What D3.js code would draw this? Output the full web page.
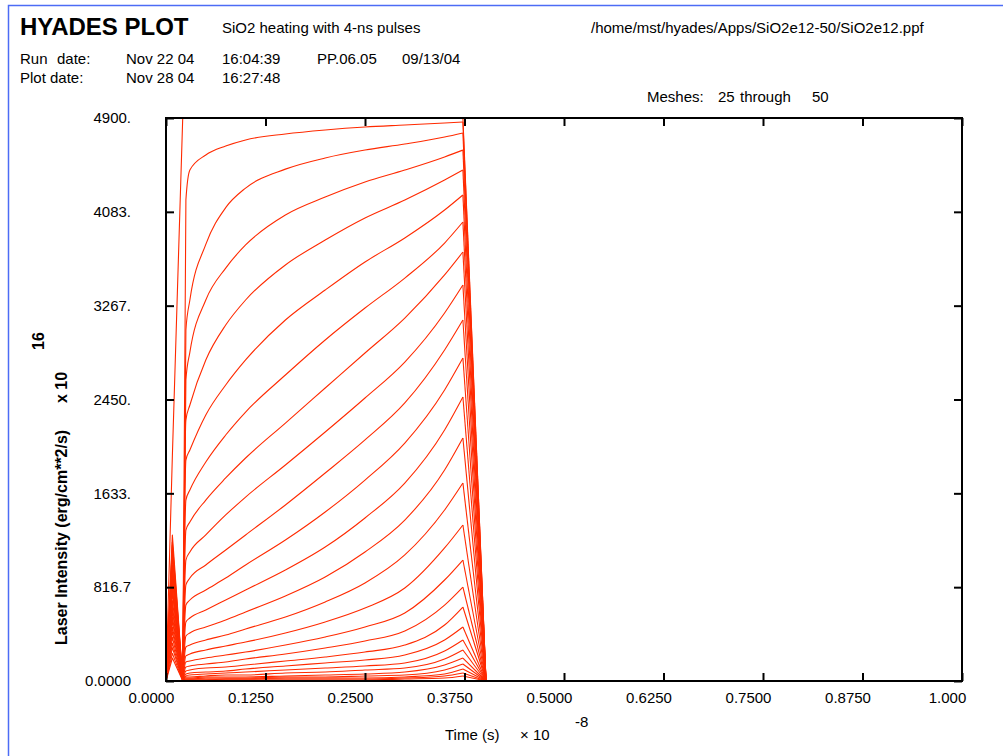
<!DOCTYPE html>
<html>
<head>
<meta charset="utf-8">
<script src="https://cdn.jsdelivr.net/npm/d3@7"></script>
<style>
  html, body { margin: 0; padding: 0; background: #fff; }
  svg { display: block; }
  text { font-family: "Liberation Sans", Arial, Helvetica, sans-serif; fill: #000; }
</style>
</head>
<body>
<svg id="chart" width="1003" height="756"></svg>
<script>
// ---- data ----
const times = [0, 0.008, 0.021, 0.025, 0.03, 0.05, 0.075, 0.1, 0.15, 0.2, 0.25, 0.3, 0.35, 0.373, 0.402];

const mesh50 = [0, 1960, 4900, 4900, 4900, 4900, 4900, 4900, 4900, 4900, 4900, 4900, 4900, 4900, 0];
const mesh49 = [0, 1270, 12, 4186, 4447, 4578, 4656, 4709, 4761, 4796, 4822, 4839, 4856, 4865, 0];
const mesh48 = [0, 1180, 10, 3055, 3316, 3800, 4120, 4290, 4455, 4552, 4621, 4674, 4735, 4770, 0];
const mesh47 = [0, 1210, 14, 2620, 2863, 3316, 3594, 3795, 4056, 4212, 4343, 4447, 4561, 4621, 0];
const mesh46 = [0, 1090, 9, 2272, 2402, 2794, 3098, 3316, 3621, 3838, 4030, 4186, 4360, 4447, 0];
const mesh45 = [0, 1120, 11, 1923, 2010, 2315, 2576, 2794, 3142, 3403, 3647, 3856, 4099, 4230, 0];
const mesh44 = [0, 1010, 8, 1575, 1662, 1906, 2141, 2341, 2663, 2968, 3246, 3507, 3812, 3995, 0];
const mesh43 = [0, 960, 12, 1314, 1384, 1575, 1767, 1941, 2245, 2550, 2855, 3159, 3534, 3734, 0];
const mesh42 = [0, 990, 10, 1053, 1123, 1271, 1445, 1601, 1880, 2167, 2463, 2776, 3203, 3447, 0];
const mesh41 = [0, 880, 9, 836, 896, 1010, 1140, 1271, 1532, 1810, 2098, 2420, 2881, 3142, 0];
const mesh40 = [0, 900, 11, 661, 705, 792, 896, 1010, 1227, 1471, 1749, 2071, 2533, 2811, 0];
const mesh39 = [0, 820, 8, 514, 548, 618, 705, 792, 966, 1166, 1419, 1723, 2185, 2472, 0];
const mesh38 = [0, 770, 10, 392, 418, 470, 531, 601, 740, 905, 1123, 1401, 1836, 2115, 0];
const mesh37 = [0, 790, 9, 296, 313, 357, 400, 453, 557, 688, 853, 1097, 1488, 1723, 0];
const mesh36 = [0, 700, 8, 218, 235, 270, 305, 339, 418, 514, 635, 809, 1158, 1358, 0];
const mesh35 = [0, 650, 7, 165, 174, 200, 226, 252, 313, 383, 470, 592, 879, 1053, 0];
const mesh34 = [0, 610, 7, 122, 131, 148, 165, 191, 235, 287, 348, 435, 661, 818, 0];
const mesh33 = [0, 560, 6, 87, 96, 113, 122, 139, 174, 209, 252, 313, 487, 644, 0];
const mesh32 = [0, 520, 6, 61, 70, 78, 87, 104, 131, 157, 183, 226, 357, 470, 0];
const mesh31 = [0, 470, 5, 44, 52, 61, 70, 78, 96, 113, 131, 157, 261, 357, 0];
const mesh30 = [0, 430, 5, 35, 35, 44, 52, 52, 70, 78, 96, 113, 191, 270, 0];
const mesh29 = [0, 380, 4, 26, 26, 35, 35, 35, 44, 52, 61, 78, 139, 200, 0];
const mesh28 = [0, 330, 4, 17, 17, 26, 26, 26, 35, 35, 44, 52, 96, 148, 0];
const mesh27 = [0, 290, 3, 17, 17, 17, 17, 17, 26, 26, 26, 35, 61, 104, 0];
const mesh26 = [0, 240, 3, 9, 9, 9, 17, 17, 17, 17, 17, 26, 44, 70, 0];
const mesh25 = [0, 200, 2, 9, 9, 9, 9, 9, 9, 9, 9, 17, 26, 44, 0];

const series = [mesh25, mesh26, mesh27, mesh28, mesh29, mesh30, mesh31, mesh32, mesh33, mesh34,
  mesh35, mesh36, mesh37, mesh38, mesh39, mesh40, mesh41, mesh42, mesh43, mesh44,
  mesh45, mesh46, mesh47, mesh48, mesh49, mesh50];

const xTicks = [0, 0.125, 0.25, 0.375, 0.5, 0.625, 0.75, 0.875, 1.0];
const xTickLabels = ["0.0000", "0.1250", "0.2500", "0.3750", "0.5000", "0.6250", "0.7500", "0.8750", "1.000"];
const yTicks = [0, 816.67, 1633.33, 2450, 3266.67, 4083.33, 4900];
const yTickLabels = ["0.0000", "816.7", "1633.", "2450.", "3267.", "4083.", "4900."];

// ---- layout ----
const svg = d3.select("#chart");
const L = 166, R = 962, T = 118, B = 681;
const x = d3.scaleLinear().domain([0, 1]).range([L, R]);
const y = d3.scaleLinear().domain([0, 4900]).range([B, T]);

svg.append("rect").attr("width", 1003).attr("height", 756).attr("fill", "#fff");

// blue page border
svg.append("path").attr("d", "M8.5,756 V5.5 H1003")
  .attr("fill", "none").attr("stroke", "#4d6cf5").attr("stroke-width", 1.5);

// header texts
const hdr = svg.append("g");
hdr.append("text").attr("x", 20).attr("y", 35).attr("font-size", 24).attr("font-weight", "bold").text("HYADES PLOT");
hdr.append("text").attr("x", 222).attr("y", 33).attr("font-size", 15).text("SiO2 heating with 4-ns pulses");
hdr.append("text").attr("x", 591).attr("y", 33).attr("font-size", 15).text("/home/mst/hyades/Apps/SiO2e12-50/SiO2e12.ppf");
const row = (xx, yy, s) => hdr.append("text").attr("x", xx).attr("y", yy).attr("font-size", 15).text(s);
row(20, 64, "Run"); row(57, 64, "date:"); row(126, 64, "Nov 22 04"); row(222, 64, "16:04:39");
row(317, 64, "PP.06.05"); row(402, 64, "09/13/04");
row(20, 83, "Plot date:"); row(126, 83, "Nov 28 04"); row(222, 83, "16:27:48");
row(647, 102, "Meshes:"); row(718, 102, "25"); row(740, 102, "through"); row(812, 102, "50");

// curves: linear for the early spike and the final drop, smooth along the pulse plateau
const pts = s => s.map((v, i) => [x(times[i]), y(v)]);
const linearLine = d3.line();
const smoothLine = d3.line().curve(d3.curveMonotoneX);
const curveG = svg.append("g").attr("fill", "none").attr("stroke", "#ff2a00")
  .attr("stroke-width", 1.1).attr("stroke-linejoin", "round");
series.forEach(s => {
  const p = pts(s);
  curveG.append("path").attr("d", linearLine(p.slice(0, 3)));
  curveG.append("path").attr("d", smoothLine(p.slice(2, 14)));
  curveG.append("path").attr("d", linearLine(p.slice(13)));
});

// axes (inward ticks on all four sides)
const styleAxis = g => {
  g.select(".domain").remove();
  g.selectAll(".tick line").attr("stroke", "#000").attr("stroke-width", 2);
  g.selectAll("text").attr("font-size", 15).attr("font-family", "Liberation Sans, Arial, sans-serif").attr("fill", "#000");
};
svg.append("g").attr("transform", `translate(0,${B})`)
  .call(d3.axisBottom(x).tickValues(xTicks).tickFormat((d, i) => xTickLabels[i]).tickSize(-8).tickPadding(11))
  .call(styleAxis)
  .call(g => g.selectAll("text").attr("dx", -15));
svg.append("g").attr("transform", `translate(0,${T})`)
  .call(d3.axisTop(x).tickValues(xTicks).tickFormat("").tickSize(-8))
  .call(styleAxis);
svg.append("g").attr("transform", `translate(${L},0)`)
  .call(d3.axisLeft(y).tickValues(yTicks).tickFormat((d, i) => yTickLabels[i]).tickSize(-8).tickPadding(35))
  .call(styleAxis);
svg.append("g").attr("transform", `translate(${R},0)`)
  .call(d3.axisRight(y).tickValues(yTicks).tickFormat("").tickSize(-8))
  .call(styleAxis);

// frame
svg.append("rect").attr("x", L).attr("y", T).attr("width", R - L).attr("height", B - T)
  .attr("fill", "none").attr("stroke", "#000").attr("stroke-width", 2);

// axis titles
svg.append("text").attr("x", 445).attr("y", 740).attr("font-size", 15).text("Time (s)");
svg.append("text").attr("x", 520).attr("y", 740).attr("font-size", 15).text("\u00d7 10");
svg.append("text").attr("x", 575).attr("y", 727).attr("font-size", 15).text("-8");

const ylab = (yy, xx, s) => svg.append("text")
  .attr("transform", `translate(${xx},${yy}) rotate(-90)`)
  .attr("font-size", 16).attr("font-weight", "bold").text(s);
ylab(645, 67, "Laser Intensity (erg/cm**2/s)");
ylab(403, 67, "x 10");
ylab(350, 44, "16");
</script>
</body>
</html>
